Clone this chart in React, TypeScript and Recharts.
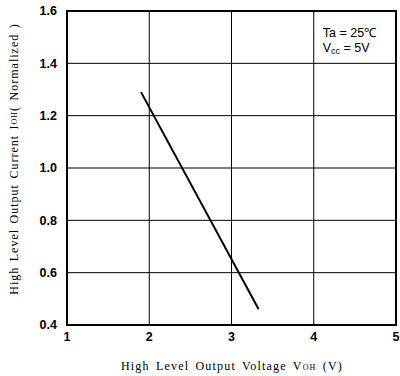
import React from 'react';
import { LineChart, Line, XAxis, YAxis, CartesianGrid, ReferenceArea } from 'recharts';

const voltageV = [1.9, 3.33];
const currentNorm = [1.29, 0.46];
const xTicks = [1, 2, 3, 4, 5];
const yTicks = [0.4, 0.6, 0.8, 1.0, 1.2, 1.4, 1.6];

const data = voltageV.map((v, i) => ({ x: v, y: currentNorm[i] }));

const tickStyle = { fontFamily: 'Liberation Sans, Arial, sans-serif', fontWeight: 700, fontSize: 12.5, fill: '#000' };
const serif = 'Liberation Serif, Times New Roman, serif';

const YLabel = (props: any) => {
  const cy = 159;
  const cx = 14;
  return (
    <text x={cx} y={cy} transform={`rotate(-90, ${cx}, ${cy})`} textAnchor="middle" dominantBaseline="central"
      fontFamily={serif} fontSize={12} letterSpacing={1} wordSpacing={1.5} fill="#000">
      <tspan>High Level Output Current  I</tspan>
      <tspan fontSize={8}>OH</tspan>
      <tspan>( Normalized )</tspan>
    </text>
  );
};

const XLabel = (props: any) => {
  return (
    <text x={232} y={370} textAnchor="middle" fontFamily={serif} fontSize={12} letterSpacing={1.2} wordSpacing={2} fill="#000">
      <tspan>High Level Output Voltage  V</tspan>
      <tspan fontSize={8}>OH</tspan>
      <tspan> (V)</tspan>
    </text>
  );
};

const CondLabel = (props: any) => {
  const vb = props.viewBox || {};
  const x = vb.x + 9;
  const f = 'Liberation Sans, Arial, sans-serif';
  return (
    <g>
      <text x={x} y={vb.y + 26} fontFamily={f} fontSize={12.5} fill="#000">Ta = 25℃</text>
      <text x={x} y={vb.y + 41} fontFamily={f} fontSize={12.5} fill="#000">
        <tspan>V</tspan><tspan fontSize={9} dy={2}>cc</tspan><tspan dy={-2}> = 5V</tspan>
      </text>
    </g>
  );
};

export default function App() {
  return (
    <div style={{ position: 'absolute', left: 0, top: 0, background: '#fff' }}>
      <LineChart width={400} height={376} data={data} margin={{ top: 11, right: 4, bottom: 21, left: 7 }}>
        <CartesianGrid stroke="#000" strokeWidth={1} horizontalValues={yTicks} verticalValues={xTicks} />
        <XAxis type="number" dataKey="x" domain={[1, 5]} ticks={xTicks} height={30} tickLine={false}
          axisLine={false} tick={tickStyle} tickMargin={1} label={<XLabel />} />
        <YAxis type="number" dataKey="y" domain={[0.4, 1.6]} ticks={yTicks} width={60} tickLine={false}
          axisLine={false} tick={tickStyle} tickMargin={4} tickFormatter={(v: number) => v.toFixed(1)} label={<YLabel />} />
        <ReferenceArea x1={1} x2={5} y1={0.4} y2={1.6} fill="none" stroke="#000" strokeWidth={2} ifOverflow="visible" />
        <ReferenceArea x1={4} x2={5} y1={1.4} y2={1.6} fill="none" stroke="none" label={<CondLabel />} />
        <Line dataKey="y" stroke="#000" strokeWidth={2} dot={false} isAnimationActive={false} />
      </LineChart>
    </div>
  );
}
